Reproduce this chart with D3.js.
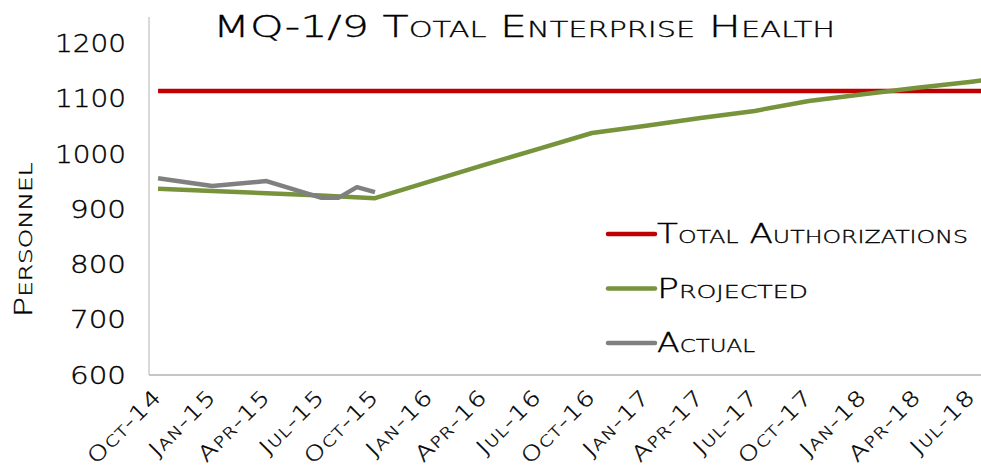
<!DOCTYPE html>
<html>
<head>
<meta charset="utf-8">
<script src="https://cdn.jsdelivr.net/npm/d3@7"></script>
<style>
    html, body { margin: 0; padding: 0; background: #fff; }
    svg { display: block; }
    text { font-family: "DejaVu Sans", sans-serif; font-weight: 200; fill: #000; stroke: #000; stroke-width: 0.35px; font-variant: small-caps; }
</style>
</head>
<body>
<div class="plot"></div>
<script>
// months on the axis run Oct-14 .. Sep-18 (image is cropped right after Jul-18)
const firstMonth = new Date(2014, 9, 1);
const lastMonth = new Date(2018, 9, 1);

const xTickLabels = ["Oct-14", "Jan-15", "Apr-15", "Jul-15", "Oct-15", "Jan-16", "Apr-16", "Jul-16",
    "Oct-16", "Jan-17", "Apr-17", "Jul-17", "Oct-17", "Jan-18", "Apr-18", "Jul-18"];
const yTicks = [600, 700, 800, 900, 1000, 1100, 1200];

const authMonths = ["2014-10", "2018-09"];
const authValues = [1114, 1114];

const projectedMonths = ["2014-10", "2015-01", "2015-04", "2015-07", "2015-10", "2016-01", "2016-04",
    "2016-07", "2016-10", "2017-01", "2017-04", "2017-07", "2017-10", "2018-01", "2018-04", "2018-07", "2018-08"];
const projectedValues = [937, 933, 929, 925, 920, 950, 980, 1009, 1038, 1051, 1065, 1078, 1096, 1108, 1120, 1131, 1135];

const actualMonths = ["2014-10", "2015-01", "2015-04", "2015-07", "2015-08", "2015-09", "2015-10"];
const actualValues = [956, 942, 951, 921, 921, 940, 931];

const seriesNames = ["Total Authorizations", "Projected", "Actual"];
const seriesColors = ["#C00000", "#77933C", "#808080"];

const width = 981, height = 474;
const plotLeft = 149, plotTop = 17, plotBottom = 375;

const monthKey = d3.timeFormat("%Y-%m");
const months = d3.timeMonth.range(firstMonth, lastMonth).map(monthKey);

const svg = d3.select(".plot")
    .append("svg")
    .attr("width", width)
    .attr("height", height);

const x = d3.scaleBand()
    .domain(months)
    .range([plotLeft, plotLeft + months.length * 18.08]);

const y = d3.scaleLinear()
    .domain([600, 1248])
    .range([plotBottom, plotTop]);

const cx = m => x(m) + x.bandwidth() / 2;

// axes lines
svg.append("line")
    .attr("x1", plotLeft).attr("x2", plotLeft)
    .attr("y1", y(1248)).attr("y2", y(600))
    .attr("stroke", "#b3b3b3").attr("stroke-width", 1);

svg.append("line")
    .attr("x1", plotLeft).attr("x2", width)
    .attr("y1", y(600)).attr("y2", y(600))
    .attr("stroke", "#b3b3b3").attr("stroke-width", 1.3);

// y tick labels
svg.append("g")
    .selectAll("text")
    .data(yTicks)
    .enter().append("text")
    .attr("x", 126)
    .attr("y", d => y(d))
    .attr("dy", "0.36em")
    .attr("text-anchor", "end")
    .attr("textLength", d => String(d).length === 4 ? 71 : 56)
    .attr("lengthAdjust", "spacingAndGlyphs")
    .style("font-size", "24px")
    .text(d => d);

// x tick labels
const parseLabel = d3.timeParse("%b-%y");
svg.append("g")
    .selectAll("text")
    .data(xTickLabels)
    .enter().append("text")
    .attr("transform", d => `translate(${cx(monthKey(parseLabel(d))) + 5}, 398) rotate(-45) scale(1.24, 1)`)
    .attr("text-anchor", "end")
    .style("font-size", "21px")
    .style("letter-spacing", "1px")
    .text(d => d);

// y axis title
svg.append("text")
    .attr("transform", `translate(32, 240) rotate(-90)`)
    .attr("text-anchor", "middle")
    .attr("textLength", 155)
    .attr("lengthAdjust", "spacingAndGlyphs")
    .style("font-size", "25px")
    .text("Personnel");

// title
svg.append("text")
    .attr("x", 213)
    .attr("y", 37)
    .attr("textLength", 622)
    .attr("lengthAdjust", "spacingAndGlyphs")
    .style("font-size", "31px")
    .text("MQ-1/9 Total Enterprise Health");

const line = d3.line()
    .x(d => cx(d.m))
    .y(d => y(d.v));

const zip = (ms, vs) => ms.map((m, i) => ({ m: m, v: vs[i] }));

svg.append("path")
    .datum(zip(authMonths, authValues))
    .attr("fill", "none")
    .attr("stroke", seriesColors[0])
    .attr("stroke-width", 4.5)
    .attr("d", line);

svg.append("path")
    .datum(zip(projectedMonths, projectedValues))
    .attr("fill", "none")
    .attr("stroke", seriesColors[1])
    .attr("stroke-width", 4.5)
    .attr("stroke-linejoin", "round")
    .attr("d", line);

svg.append("path")
    .datum(zip(actualMonths, actualValues))
    .attr("fill", "none")
    .attr("stroke", seriesColors[2])
    .attr("stroke-width", 4.5)
    .attr("stroke-linejoin", "round")
    .attr("d", line);

// legend
const legendWidths = [311, 151, 98];
const legend = svg.append("g")
    .selectAll("g")
    .data(seriesNames)
    .enter().append("g")
    .attr("transform", (d, i) => `translate(608, ${234 + i * 54.5})`);

legend.append("line")
    .attr("x1", 0).attr("x2", 47)
    .attr("stroke", (d, i) => seriesColors[i])
    .attr("stroke-width", 4.5)
    .attr("stroke-linecap", "round");

legend.append("text")
    .attr("x", 49)
    .attr("dy", "0.36em")
    .attr("textLength", (d, i) => legendWidths[i])
    .attr("lengthAdjust", "spacingAndGlyphs")
    .style("font-size", "26px")
    .text(d => d);
</script>
</body>
</html>
